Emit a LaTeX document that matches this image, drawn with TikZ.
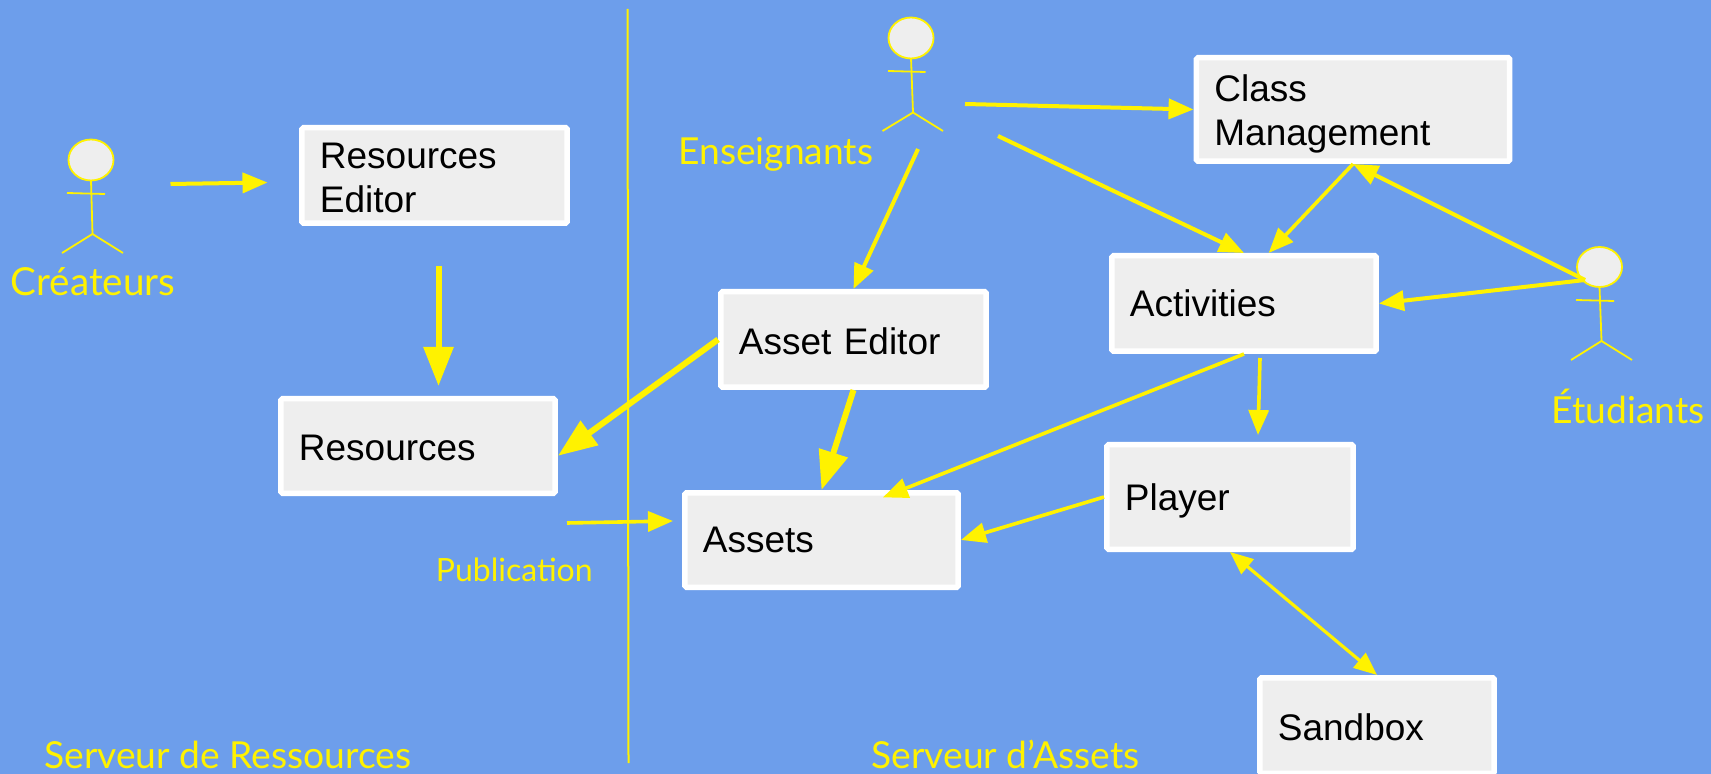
\documentclass[tikz,border=0pt]{standalone}
\usepackage{fontspec}
\setmainfont{Liberation Sans}
\newfontfamily\labelfont{Lato}
\usetikzlibrary{arrows.meta}
\definecolor{slideblue}{HTML}{6D9EEB}
\definecolor{boxgray}{HTML}{EEEEEE}
\newcommand{\lift}[1]{\rule{0pt}{#1pt}}
\tikzset{
  box/.style={draw=white,fill=boxgray,line width=2.75pt,rounded corners=0.8pt,align=left,inner xsep=9.05pt,inner ysep=0pt,font=\fontsize{18.5}{22}\selectfont,text=black},
  stick/.style={draw=yellow,line width=0.9pt},
  lbl/.style={anchor=base west,inner sep=0pt,text=yellow,font=\labelfont\fontsize{18.6}{22}\selectfont},
  bigarrow/.style={draw=yellow,line width=3pt,-{Triangle[length=19.5pt,width=14.5pt]}},
  medarrow/.style={draw=yellow,line width=2pt,-{Triangle[length=12.5pt,width=10pt]}},
  dblarrow/.style={draw=yellow,line width=1.6pt,{Triangle[length=11.5pt,width=9.5pt]}-{Triangle[length=11.5pt,width=9.5pt]}}
}
\begin{document}
\begin{tikzpicture}[x=0.5pt,y=-0.5pt]
    \useasboundingbox (0,0) rectangle (1711,774);
    \fill[slideblue] (0,0) rectangle (1711,774);
    \draw[yellow,line width=1pt] (627.5,9) -- (628.5,763);

    \node[box,text width=114.6pt,minimum height=47.75pt] (editorbox) at (434.5,175.5) {\lift{15}Resources\\Editor};
    \node[box,text width=119.1pt,minimum height=47.25pt] (resbox) at (418,446) {\lift{14.8}Resources};
    \node[box,text width=118.6pt,minimum height=47.25pt] (assetbox) at (821.5,540) {Assets};
    \node[box,text width=114.6pt,minimum height=47.75pt] (aebox) at (853.5,339.5) {\lift{15.4}Asset Editor};
    \node[box,text width=114.1pt,minimum height=47.75pt] (actbox) at (1244,303.5) {Activities};
    \node[box,text width=138.6pt,minimum height=51.75pt] (classbox) at (1353,109.5) {\lift{17.6}Class\\Management};
    \node[box,text width=105.1pt,minimum height=52.25pt] (playerbox) at (1230,497) {\lift{17.8}Player};
    \node[box,text width=99.1pt,minimum height=47.75pt] (sandbox) at (1377,725.5) {\lift{15.2}Sandbox};

    \draw[stick] (91,180) -- (92.5,234);
    \draw[stick] (67,193) -- (105,194);
    \draw[stick] (62,253) -- (92.5,234) -- (123,253);
    \draw[stick,fill=boxgray] (91,160) ellipse (22.5 and 20.5);
    \draw[stick] (911,58) -- (913,112.5);
    \draw[stick] (888,71) -- (925.5,72);
    \draw[stick] (882.5,131) -- (913,112.5) -- (943,131);
    \draw[stick,fill=boxgray] (911,38) ellipse (22.5 and 20.5);
    \draw[stick] (1599.5,287) -- (1601.5,341);
    \draw[stick] (1576,300) -- (1614,301);
    \draw[stick] (1571,360) -- (1601.5,341) -- (1632,360);
    \draw[stick,fill=boxgray] (1599.5,267) ellipse (22.5 and 20);

    \node[lbl,font=\labelfont\fontsize{19.3}{22}\selectfont] (createurs) at (10.5,296) {Créateurs};
    \node[lbl] (enseignants) at (678,165) {Enseignants};
    \node[lbl] (etudiants) at (1551,423) {Étudiants};
    \node[lbl] (resserver) at (44,768) {Serveur de Ressources};
    \node[lbl] (assetserver) at (871,768) {Serveur d’Assets};
    \node[lbl,font=\labelfont\fontsize{16}{18}\selectfont] (publication) at (435.5,581) {Publication};

    \coordinate (createurout) at (170.5,184);
    \coordinate (editorin) at (267.5,182.5);
    \coordinate (editorout) at (438.5,266.5);
    \coordinate (resin) at (438.5,386);
    \coordinate (enseignout) at (918,149);
    \coordinate (classout) at (965,104);
    \coordinate (actout) at (998,136);
    \coordinate (etudout) at (1585,280);
    \coordinate (playout) at (1260,358);
    \coordinate (playin) at (1258,435);
    \coordinate (pubout) at (567,523);
    \coordinate (pubin) at (673,521);

    \draw[medarrow] (createurout) -- (editorin);
    \draw[bigarrow] (editorout) -- (resin);
    \draw[bigarrow] (aebox.west) -- (resbox.-4);
    \draw[bigarrow] (aebox.south) -- (assetbox.north);
    \draw[medarrow] (enseignout) -- (aebox.north);
    \draw[medarrow] (classout) -- (classbox.west);
    \draw[medarrow] (actout) -- (actbox.north);
    \draw[medarrow,line width=1.8pt] (classbox.south) -- (actbox.64);
    \draw[medarrow] (etudout) -- (classbox.south);
    \draw[medarrow] (etudout) -- (actbox.east);
    \draw[medarrow,line width=1.8pt,shorten >=-10pt] (actbox.south) -- (assetbox.32.5);
    \draw[medarrow,line width=1.8pt] (playout) -- (playin);
    \draw[medarrow,line width=1.8pt] (playerbox.west) -- (assetbox.east);
    \draw[dblarrow] (playerbox.south) -- (sandbox.north);
    \draw[medarrow,line width=1.8pt] (pubout) -- (pubin);
\end{tikzpicture}
\end{document}
